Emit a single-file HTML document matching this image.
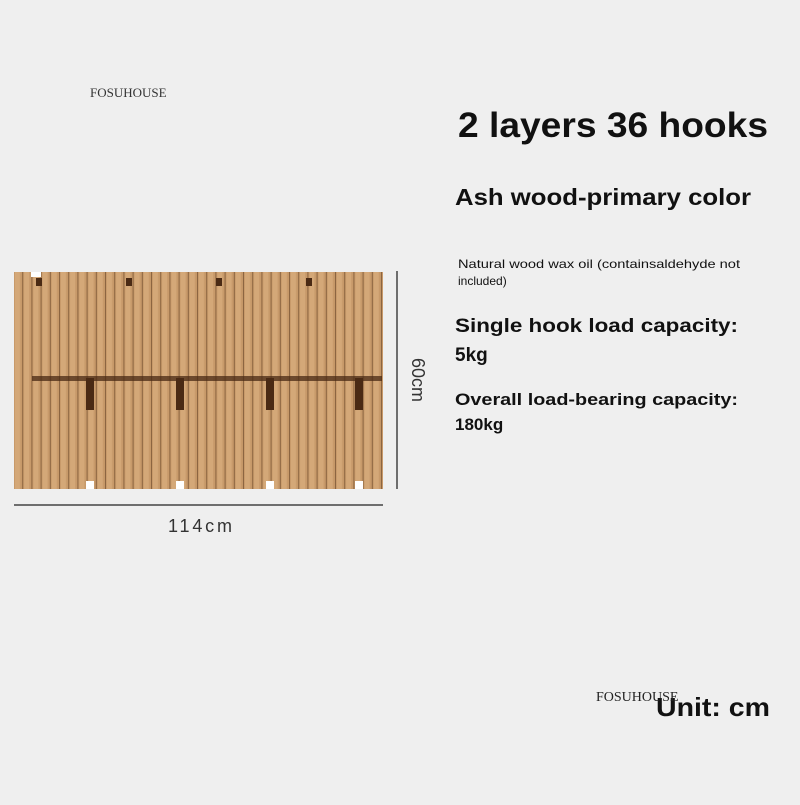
<!DOCTYPE html>
<html><head><style>html,body{margin:0;padding:0;background:#efefef}</style></head><body>
<svg width="800" height="800" xmlns="http://www.w3.org/2000/svg" font-family="Liberation Sans, sans-serif">
<defs>
<pattern id="slats" x="14" y="0" width="9.2" height="800" patternUnits="userSpaceOnUse">
<rect width="9.2" height="800" fill="#c89a6a"/>
<rect x="1" width="5" height="800" fill="#d4a878"/>
<rect x="8.2" width="1" height="800" fill="#8a6440"/>
</pattern>
</defs>
<rect width="800" height="800" fill="#efefef"/>
<text x="90" y="97" font-family="Liberation Serif, serif" font-size="13" fill="#333">FOSUHOUSE</text>
<rect x="14" y="272" width="369" height="217" fill="url(#slats)"/>
<g fill="#4a2a14">
<rect x="36" y="278" width="6" height="8"/><rect x="126" y="278" width="6" height="8"/><rect x="216" y="278" width="6" height="8"/><rect x="306" y="278" width="6" height="8"/>
<rect x="32" y="376" width="350" height="5" opacity="0.75"/>
<rect x="86" y="378" width="8" height="32"/><rect x="176" y="378" width="8" height="32"/><rect x="266" y="378" width="8" height="32"/><rect x="355" y="378" width="8" height="32"/>
</g>
<g fill="#fff">
<rect x="31" y="272" width="10" height="5"/><rect x="86" y="481" width="8" height="8"/><rect x="176" y="481" width="8" height="8"/><rect x="266" y="481" width="8" height="8"/><rect x="355" y="481" width="8" height="8"/>
</g>
<line x1="14" y1="505" x2="383" y2="505" stroke="#444" stroke-width="1.5"/>
<line x1="397" y1="271" x2="397" y2="489" stroke="#444" stroke-width="1.5"/>
<text x="200" y="532" text-anchor="middle" font-size="18" fill="#333" textLength="64">114cm</text>
<text transform="translate(412,380) rotate(90)" text-anchor="middle" font-size="18" fill="#333">60cm</text>
<g font-weight="bold" fill="#111">
<text x="458" y="137" font-size="35" textLength="310" lengthAdjust="spacingAndGlyphs">2 layers 36 hooks</text>
<text x="455" y="205" font-size="23" textLength="296" lengthAdjust="spacingAndGlyphs">Ash wood-primary color</text>
<text x="458" y="268" font-size="12" font-weight="normal" textLength="282" lengthAdjust="spacingAndGlyphs">Natural wood wax oil (containsaldehyde not</text>
<text x="458" y="285" font-size="12" font-weight="normal">included)</text>
<text x="455" y="332" font-size="19" textLength="283" lengthAdjust="spacingAndGlyphs">Single hook load capacity:</text>
<text x="455" y="361" font-size="19">5kg</text>
<text x="455" y="405" font-size="17" textLength="283" lengthAdjust="spacingAndGlyphs">Overall load-bearing capacity:</text>
<text x="455" y="430" font-size="17">180kg</text>
<text x="656" y="716" font-size="26" textLength="114" lengthAdjust="spacingAndGlyphs">Unit: cm</text>
</g>
<text x="596" y="701" font-family="Liberation Serif, serif" font-size="14" fill="#222">FOSUHOUSE</text>
</svg>
</body></html>
